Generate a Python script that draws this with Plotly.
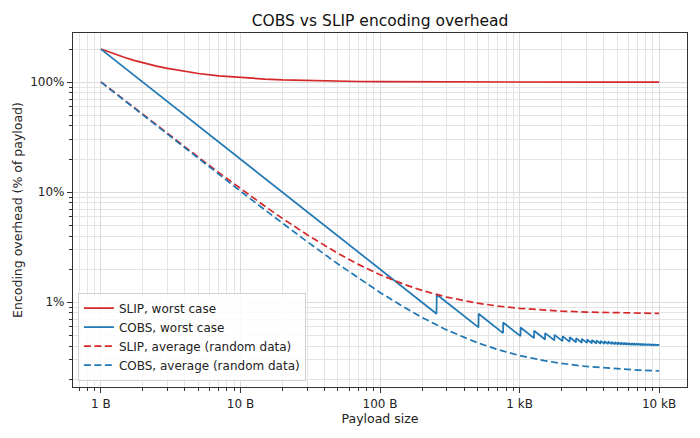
import plotly.graph_objects as go

# payload sizes (bytes) for the smooth curves
sizes = [1, 1.25, 1.5, 1.75, 2, 2.5, 3, 3.5, 4, 5, 7, 10, 15, 20, 30, 50, 70,
         100, 150, 200, 300, 500, 700, 1000, 1500, 2000, 3000, 5000, 7000, 10000]

# overhead in % of payload
slip_worst = [200, 180, 166.7, 157.1, 150, 140, 133.3, 128.6, 125, 120, 114.3,
              110, 106.7, 105, 103.3, 102, 101.4, 101, 100.7, 100.5, 100.3,
              100.2, 100.14, 100.1, 100.07, 100.05, 100.03, 100.02, 100.01,
              100.01]
slip_avg = [100.78, 80.78, 67.45, 57.92, 50.78, 40.78, 34.11, 29.35, 25.78,
            20.78, 15.07, 10.78, 7.448, 5.781, 4.115, 2.781, 2.210, 1.781,
            1.448, 1.281, 1.115, 0.981, 0.924, 0.881, 0.848, 0.831, 0.815,
            0.801, 0.795, 0.791]
cobs_avg = [100.23, 80.23, 66.89, 57.37, 50.23, 40.23, 33.56, 28.80, 25.23,
            20.23, 14.51, 10.23, 6.895, 5.228, 3.561, 2.228, 1.657, 1.228,
            0.895, 0.728, 0.561, 0.428, 0.371, 0.328, 0.295, 0.278, 0.261,
            0.248, 0.242, 0.238]

# COBS worst case is a sawtooth, so it gets its own break points
cobs_worst_x = [1, 254, 255, 508, 509, 762, 763, 1016, 1017, 1270, 1271,
                1524, 1525, 1778, 1779, 2032, 2033, 2286, 2287, 2540, 2541,
                2794, 2795, 3048, 3049, 3302, 3303, 3556, 3557, 3810, 3811,
                4064, 4065, 4318, 4319, 4572, 4573, 4826, 4827, 5080, 5081,
                5334, 5335, 5588, 5589, 5842, 5843, 6096, 6097, 6350, 6351,
                6604, 6605, 6858, 6859, 7112, 7113, 7366, 7367, 7620, 7621,
                7874, 7875, 8128, 8129, 8382, 8383, 8636, 8637, 8890, 8891,
                9144, 9145, 9398, 9399, 9652, 9653, 9906, 9907, 10000]
cobs_worst_y = [200, 0.787, 1.176, 0.591, 0.786, 0.525, 0.655, 0.492, 0.590,
                0.472, 0.551, 0.459, 0.525, 0.450, 0.506, 0.443, 0.492, 0.437,
                0.481, 0.433, 0.472, 0.429, 0.465, 0.427, 0.459, 0.424, 0.454,
                0.422, 0.450, 0.420, 0.446, 0.418, 0.443, 0.417, 0.440, 0.416,
                0.437, 0.414, 0.435, 0.413, 0.433, 0.412, 0.431, 0.412, 0.429,
                0.411, 0.428, 0.410, 0.426, 0.409, 0.425, 0.409, 0.424, 0.408,
                0.423, 0.408, 0.422, 0.407, 0.421, 0.407, 0.420, 0.406, 0.419,
                0.406, 0.418, 0.406, 0.418, 0.405, 0.417, 0.405, 0.416, 0.405,
                0.416, 0.404, 0.415, 0.404, 0.414, 0.404, 0.414, 0.410]

x_ticks = [1, 10, 100, 1000, 10000]
x_labels = ["1 B", "10 B", "100 B", "1 kB", "10 kB"]
y_ticks = [1, 10, 100]
y_labels = ["1%", "10%", "100%"]

RED = "#d62728"
BLUE = "#1f77b4"
DASH = "7px,3.5px"

fig = go.Figure()
fig.add_trace(go.Scatter(x=sizes, y=slip_worst, mode="lines", name="SLIP, worst case",
                         line=dict(color=RED, width=1.7)))
fig.add_trace(go.Scatter(x=cobs_worst_x, y=cobs_worst_y, mode="lines", name="COBS, worst case",
                         line=dict(color=BLUE, width=1.7)))
fig.add_trace(go.Scatter(x=sizes, y=slip_avg, mode="lines", name="SLIP, average (random data)",
                         line=dict(color=RED, width=1.7, dash=DASH)))
fig.add_trace(go.Scatter(x=sizes, y=cobs_avg, mode="lines", name="COBS, average (random data)",
                         line=dict(color=BLUE, width=1.7, dash=DASH)))

minor_x = [m * d for d in [0.1, 1, 10, 100, 1000, 10000] for m in range(2, 10)]
minor_y = [m * d for d in [0.1, 1, 10, 100] for m in range(2, 10)]

axis_style = dict(
    type="log",
    automargin=False,
    showline=True, linecolor="#333", linewidth=1.2, mirror=True,
    ticks="outside", ticklen=5, tickcolor="#333",
    showgrid=True, gridcolor="#dcdcdc", gridwidth=1,
    zeroline=False,
    tickfont=dict(size=12, color="#222"),
)

fig.update_xaxes(
    **axis_style,
    range=[-0.2, 4.2],
    tickvals=x_ticks, ticktext=x_labels,
    minor=dict(tickmode="array", tickvals=minor_x, ticks="outside", ticklen=3,
               tickcolor="#333", showgrid=True, gridcolor="#e4e4e4"),
    title=dict(text="Payload size", font=dict(size=12.5, color="#222"), standoff=4),
)
fig.update_yaxes(
    **axis_style,
    range=[-0.77, 2.447],
    tickvals=y_ticks, ticktext=y_labels,
    minor=dict(tickmode="array", tickvals=minor_y, ticks="outside", ticklen=3,
               tickcolor="#333", showgrid=True, gridcolor="#e4e4e4"),
    title=dict(text="Encoding overhead (% of payload)", font=dict(size=12.5, color="#222"), standoff=4),
)

fig.update_layout(
    width=700, height=438,
    template="plotly_white",
    font=dict(family="DejaVu Sans", size=12, color="#222"),
    title=dict(text="COBS vs SLIP encoding overhead", x=0.543, xanchor="center",
               y=0.953, yanchor="middle", font=dict(size=15.5, color="#111")),
    margin=dict(l=73, r=13, t=33, b=51),
    plot_bgcolor="white",
    paper_bgcolor="white",
    legend=dict(x=0.008, y=0.018, xanchor="left", yanchor="bottom",
                bgcolor="rgba(255,255,255,0.85)", bordercolor="#d0d0d0", borderwidth=1,
                font=dict(size=12, color="#222"), tracegroupgap=0, itemwidth=30),
    showlegend=True,
)

# the page's default body margin would push the figure off by 8px
fig.write_html("out.html", config={"displayModeBar": False},
               post_script="document.body.style.margin = '0';")
